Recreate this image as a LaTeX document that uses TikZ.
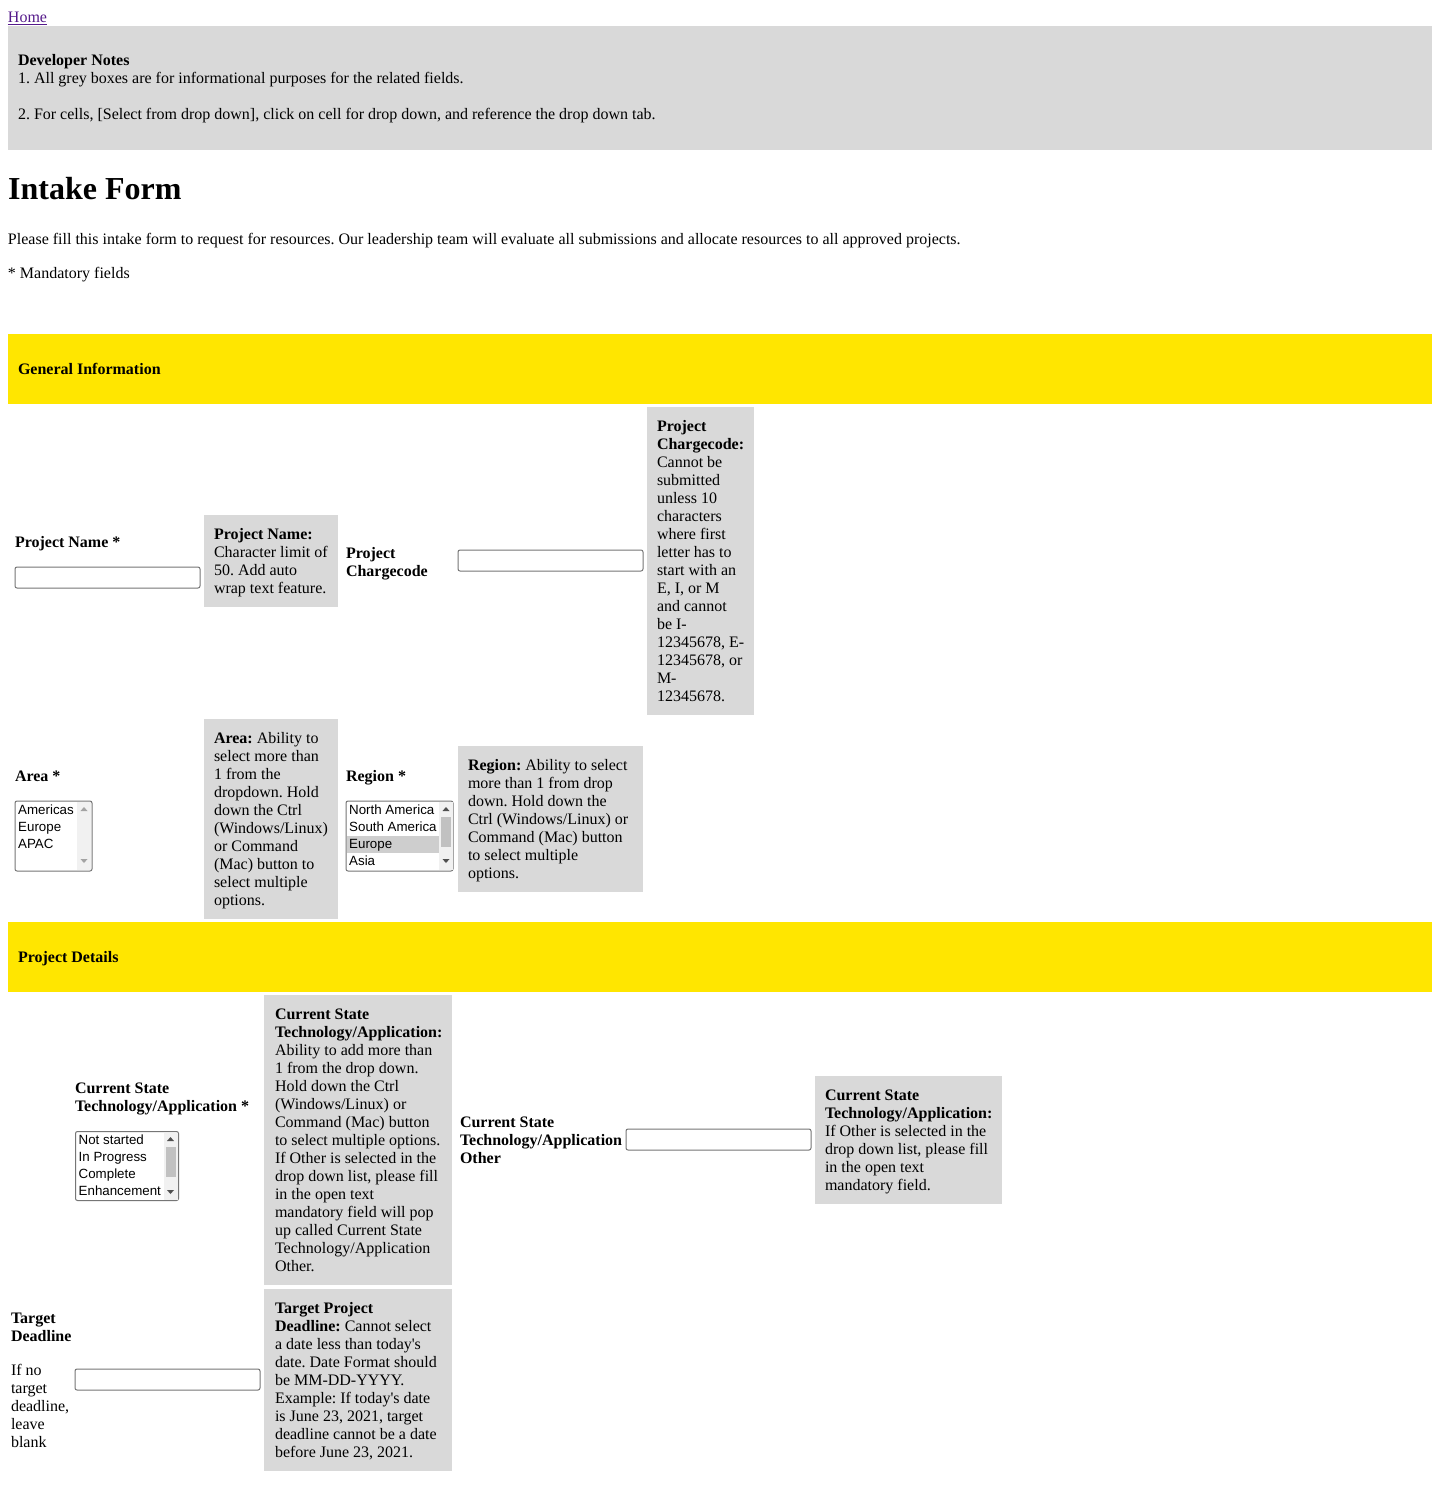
\documentclass[tikz,border=0pt]{standalone}
\usepackage{fontspec}
\setmainfont{Liberation Serif}
\setsansfont{Liberation Sans}
\definecolor{notegrey}{HTML}{D9D9D9}
\definecolor{bandyellow}{HTML}{FFE600}
\definecolor{linkpurple}{HTML}{551A8B}
\definecolor{fieldborder}{HTML}{767676}
\definecolor{thumbgrey}{HTML}{C1C1C1}
\definecolor{selgrey}{HTML}{CECECE}
\definecolor{trackgrey}{HTML}{F1F1F1}
\definecolor{arrowdark}{HTML}{505050}
\definecolor{arrowlight}{HTML}{A3A3A3}
\tikzset{
  txt/.style={anchor=base west, inner sep=0pt, outer sep=0pt, align=left, text width=#1, font=\fontsize{16}{18}\selectfont, execute at begin node={\frenchspacing\spaceskip=4pt\xspaceskip=4pt}},
  txt/.default=320pt,
  h1txt/.style={anchor=base west, inner sep=0pt, font=\fontsize{32}{36}\selectfont\bfseries},
  item/.style={anchor=base west, inner sep=0pt, font=\sffamily\fontsize{13.33}{15}\selectfont},
  panel/.style={fill=notegrey, draw=none, inner sep=0pt, outer sep=0pt, anchor=north west},
  band/.style={fill=bandyellow, draw=none, inner sep=0pt, outer sep=0pt, anchor=north west},
  field/.style={draw=fieldborder, line width=1pt, rounded corners=2pt, fill=white, inner sep=0pt, outer sep=0pt, anchor=north west},
  track/.style={fill=trackgrey, draw=none},
  thumb/.style={fill=thumbgrey, draw=none},
}
\newcommand\upar[3]{\fill[#3] (#1-3.5,#2+2) -- (#1+3.5,#2+2) -- (#1,#2-2) -- cycle;}
\newcommand\dnar[3]{\fill[#3] (#1-3.5,#2-2) -- (#1+3.5,#2-2) -- (#1,#2+2) -- cycle;}
\newcommand\sq{\textquotesingle}
\begin{document}
\begin{tikzpicture}[x=1pt,y=-1pt]
\useasboundingbox (0,0) rectangle (1440,1498);
\fill[white] (0,0) rectangle (1440,1498);

% Home link
\node[txt=100pt, text=linkpurple] (home) at (8,23) {\underline{Home}};

% Developer notes
\node[panel, minimum width=1424pt, minimum height=124pt] (devnotes) at (8,26) {};
\node[txt=1000pt] (devtxt) at (18,66) {\textbf{Developer Notes}\\1. All grey boxes are for informational purposes for the related fields.\\[18pt]2. For cells, [Select from drop down], click on cell for drop down, and reference the drop down tab.};

% Title
\node[h1txt] (title) at (8,200) {Intake Form};
\node[txt=1100pt] (intro) at (8,244) {Please fill this intake form to request for resources. Our leadership team will evaluate all submissions and allocate resources to all approved projects.};
\node[txt=300pt] (mand) at (8,278) {* Mandatory fields};

% General information band
\node[band, minimum width=1424pt, minimum height=70pt] (genband) at (8,334) {};
\node[txt] (gentxt) at (18,374) {\textbf{General Information}};

% Row 1
\node[txt] (pnlab) at (15,547) {\textbf{Project Name *}};
\node[field, minimum width=185pt, minimum height=21pt] (pnin) at (15,567) {};
\node[panel, minimum width=134pt, minimum height=92pt] (pnnote) at (204,515) {};
\node[txt] (pnnotetxt) at (214,539) {\textbf{Project Name:}\\Character limit of\\50. Add auto\\wrap text feature.};
\node[txt] (pclab) at (346,558) {\textbf{Project}\\\textbf{Chargecode}};
\node[field, minimum width=185pt, minimum height=21pt] (pcin) at (458,550) {};
\node[panel, minimum width=107pt, minimum height=308pt] (pcnote) at (647,407) {};
\node[txt] (pcnotetxt) at (657,431) {\textbf{Project}\\\textbf{Chargecode:}\\Cannot be\\submitted\\unless 10\\characters\\where first\\letter has to\\start with an\\E, I, or M\\and cannot\\be I-\\12345678, E-\\12345678, or\\M-\\12345678.};

% Row 2
\node[txt] (arealab) at (15,781) {\textbf{Area *}};
\node[field, minimum width=77pt, minimum height=70pt] (arealist) at (15,801) {};
\fill[track] (77,802) rectangle (91,870);
\upar{84}{809}{arrowlight}
\dnar{84}{861}{arrowlight}
\node[item] (a1) at (18,814) {Americas};
\node[item] (a2) at (18,831) {Europe};
\node[item] (a3) at (18,848) {APAC};
\node[panel, minimum width=134pt, minimum height=200pt] (areanote) at (204,719) {};
\node[txt] (areanotetxt) at (214,743) {\textbf{Area:} Ability to\\select more than\\1 from the\\dropdown. Hold\\down the Ctrl\\(Windows/Linux)\\or Command\\(Mac) button to\\select multiple\\options.};
\node[txt] (reglab) at (346,781) {\textbf{Region *}};
\node[field, minimum width=107pt, minimum height=70pt] (reglist) at (346,801) {};
\fill[track] (439,802) rectangle (453,870);
\fill[thumb] (440.5,816.5) rectangle (451,847);
\upar{446}{809}{arrowdark}
\dnar{446}{861}{arrowdark}
\fill[selgrey] (347,835.5) rectangle (438.5,852.5);
\node[item] (r1) at (349,814) {North America};
\node[item] (r2) at (349,831) {South America};
\node[item] (r3) at (349,848) {Europe};
\node[item] (r4) at (349,865) {Asia};
\node[panel, minimum width=185pt, minimum height=146pt] (regnote) at (458,746) {};
\node[txt] (regnotetxt) at (468,770) {\textbf{Region:} Ability to select\\more than 1 from drop\\down. Hold down the\\Ctrl (Windows/Linux) or\\Command (Mac) button\\to select multiple\\options.};

% Project details band
\node[band, minimum width=1424pt, minimum height=70pt] (pdband) at (8,922) {};
\node[txt] (pdtxt) at (18,962) {\textbf{Project Details}};

% Row 3
\node[txt] (cslab) at (75,1093) {\textbf{Current State}\\\textbf{Technology/Application *}};
\node[field, minimum width=103pt, minimum height=69pt] (cslist) at (75.5,1131.5) {};
\fill[track] (163.5,1132.5) rectangle (177.5,1199.5);
\fill[thumb] (165.5,1146.5) rectangle (175.5,1176.5);
\upar{170.5}{1139}{arrowdark}
\dnar{170.5}{1192}{arrowdark}
\node[item] (c1) at (78.5,1144) {Not started};
\node[item] (c2) at (78.5,1161) {In Progress};
\node[item] (c3) at (78.5,1178) {Complete};
\node[item] (c4) at (78.5,1195) {Enhancement};
\node[panel, minimum width=188pt, minimum height=290pt] (csnote) at (264,995) {};
\node[txt] (csnotetxt) at (275,1019) {\textbf{Current State}\\\textbf{Technology/Application:}\\Ability to add more than\\1 from the drop down.\\Hold down the Ctrl\\(Windows/Linux) or\\Command (Mac) button\\to select multiple options.\\If Other is selected in the\\drop down list, please fill\\in the open text\\mandatory field will pop\\up called Current State\\Technology/Application\\Other.};
\node[txt] (cololab) at (460,1127) {\textbf{Current State}\\\textbf{Technology/Application}\\\textbf{Other}};
\node[field, minimum width=185pt, minimum height=21pt] (csoin) at (626,1129) {};
\node[panel, minimum width=187pt, minimum height=128pt] (csonote) at (815,1076) {};
\node[txt] (csonotetxt) at (825,1100) {\textbf{Current State}\\\textbf{Technology/Application:}\\If Other is selected in the\\drop down list, please fill\\in the open text\\mandatory field.};

% Row 4
\node[txt] (tdlab) at (11,1323) {\textbf{Target}\\\textbf{Deadline}};
\node[txt] (tdhint) at (11,1375) {If no\\target\\deadline,\\leave\\blank};
\node[field, minimum width=185pt, minimum height=21pt] (tdin) at (75,1369) {};
\node[panel, minimum width=188pt, minimum height=182pt] (tdnote) at (264,1289) {};
\node[txt] (tdnotetxt) at (275,1313) {\textbf{Target Project}\\\textbf{Deadline:} Cannot select\\a date less than today\sq s\\date. Date Format should\\be MM-DD-YYYY.\\Example: If today\sq s date\\is June 23, 2021, target\\deadline cannot be a date\\before June 23, 2021.};
\end{tikzpicture}
\end{document}
